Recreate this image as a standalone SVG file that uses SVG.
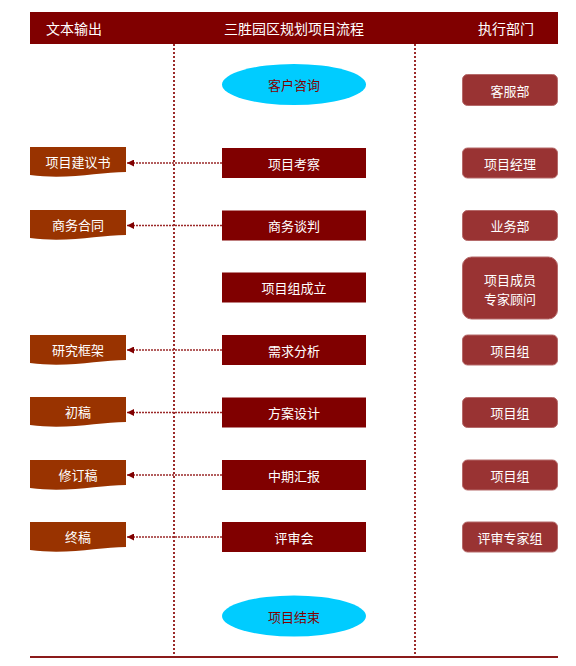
<svg xmlns="http://www.w3.org/2000/svg" width="576" height="666" viewBox="0 0 576 666">
<defs>
<style>
.t{font-family:"Noto Sans CJK SC","Noto Sans",sans-serif;font-size:13px;fill:#fff;text-anchor:middle;dominant-baseline:central}
.h{font-size:14px}
.c{fill:#800000}
.l{fill:#993300}
.r{fill:#993333;stroke:#b56a6a;stroke-width:1}
.e{fill:#00ccff}
.et{fill:#800000}
.dl{stroke:#9b2a2a;stroke-width:2;stroke-dasharray:2 2;fill:none}
.ar{stroke:#9b2a2a;stroke-width:1.5;stroke-dasharray:2 1;fill:none}
</style>
<marker id="ah" viewBox="0 0 10 10" refX="10" refY="5" markerWidth="7" markerHeight="7" markerUnits="userSpaceOnUse" orient="auto">
<path d="M0,0 L10,5 L0,10 Z" fill="#800000"/>
</marker>
</defs>
<rect width="576" height="666" fill="#fff"/>
<g id="header">
<rect x="30" y="12" width="528" height="32" fill="#800000"/>
<text class="t h" x="74" y="28">文本输出</text>
<text class="t h" x="294" y="28">三胜园区规划项目流程</text>
<text class="t h" x="506" y="28">执行部门</text>
</g>
<g id="lines">
<line class="dl" x1="174" y1="44" x2="174" y2="656"/>
<line class="dl" x1="415" y1="44" x2="415" y2="656"/>
<line x1="30" y1="657" x2="558" y2="657" stroke="#8b1a1a" stroke-width="2"/>
</g>
<g id="connectors">
<line class="ar" x1="222" y1="163" x2="127" y2="163" marker-end="url(#ah)"/>
<line class="ar" x1="222" y1="225.5" x2="127" y2="225.5" marker-end="url(#ah)"/>
<line class="ar" x1="222" y1="350" x2="127" y2="350" marker-end="url(#ah)"/>
<line class="ar" x1="222" y1="412.5" x2="127" y2="412.5" marker-end="url(#ah)"/>
<line class="ar" x1="222" y1="475" x2="127" y2="475" marker-end="url(#ah)"/>
<line class="ar" x1="222" y1="537" x2="127" y2="537" marker-end="url(#ah)"/>
</g>
<g id="n-start"><ellipse class="e" cx="294" cy="84.5" rx="72" ry="20.5"/><text class="t et" x="294" y="84.5">客户咨询</text></g>
<g id="n-c1"><rect class="c" x="222" y="148" width="144" height="30"/><text class="t" x="294" y="163">项目考察</text></g>
<g id="n-c2"><rect class="c" x="222" y="210.5" width="144" height="30"/><text class="t" x="294" y="225.5">商务谈判</text></g>
<g id="n-c3"><rect class="c" x="222" y="272.5" width="144" height="30"/><text class="t" x="294" y="287.5">项目组成立</text></g>
<g id="n-c4"><rect class="c" x="222" y="335" width="144" height="30"/><text class="t" x="294" y="350">需求分析</text></g>
<g id="n-c5"><rect class="c" x="222" y="397.5" width="144" height="30"/><text class="t" x="294" y="412.5">方案设计</text></g>
<g id="n-c6"><rect class="c" x="222" y="460" width="144" height="30"/><text class="t" x="294" y="475">中期汇报</text></g>
<g id="n-c7"><rect class="c" x="222" y="522" width="144" height="30"/><text class="t" x="294" y="537">评审会</text></g>
<g id="n-end"><ellipse class="e" cx="294" cy="616" rx="72" ry="20.5"/><text class="t et" x="294" y="616">项目结束</text></g>
<g id="n-l1"><path class="l" d="M30,147 H126 V172 C100,172 68,180 30,175 Z"/><text class="t" x="78" y="161">项目建议书</text></g>
<g id="n-l2"><path class="l" d="M30,210 H126 V235 C100,235 68,243 30,238 Z"/><text class="t" x="78" y="224">商务合同</text></g>
<g id="n-l3"><path class="l" d="M30,335 H126 V360 C100,360 68,368 30,363 Z"/><text class="t" x="78" y="349">研究框架</text></g>
<g id="n-l4"><path class="l" d="M30,397 H126 V422 C100,422 68,430 30,425 Z"/><text class="t" x="78" y="411">初稿</text></g>
<g id="n-l5"><path class="l" d="M30,460 H126 V485 C100,485 68,493 30,488 Z"/><text class="t" x="78" y="474">修订稿</text></g>
<g id="n-l6"><path class="l" d="M30,522 H126 V547 C100,547 68,555 30,550 Z"/><text class="t" x="78" y="536">终稿</text></g>
<g id="n-r1"><rect class="r" x="462.5" y="74.5" width="95" height="31" rx="5"/><text class="t" x="510" y="90">客服部</text></g>
<g id="n-r2"><rect class="r" x="462.5" y="148" width="95" height="30" rx="5"/><text class="t" x="510" y="163">项目经理</text></g>
<g id="n-r3"><rect class="r" x="462.5" y="210.5" width="95" height="30" rx="5"/><text class="t" x="510" y="225.5">业务部</text></g>
<g id="n-r4"><rect class="r" x="462.5" y="257" width="95" height="62" rx="9"/><text class="t" x="510" y="279">项目成员</text><text class="t" x="510" y="298">专家顾问</text></g>
<g id="n-r5"><rect class="r" x="462.5" y="335" width="95" height="30" rx="5"/><text class="t" x="510" y="350">项目组</text></g>
<g id="n-r6"><rect class="r" x="462.5" y="397.5" width="95" height="30" rx="5"/><text class="t" x="510" y="412.5">项目组</text></g>
<g id="n-r7"><rect class="r" x="462.5" y="460" width="95" height="30" rx="5"/><text class="t" x="510" y="475">项目组</text></g>
<g id="n-r8"><rect class="r" x="462.5" y="522" width="95" height="30" rx="5"/><text class="t" x="510" y="537">评审专家组</text></g>
</svg>
